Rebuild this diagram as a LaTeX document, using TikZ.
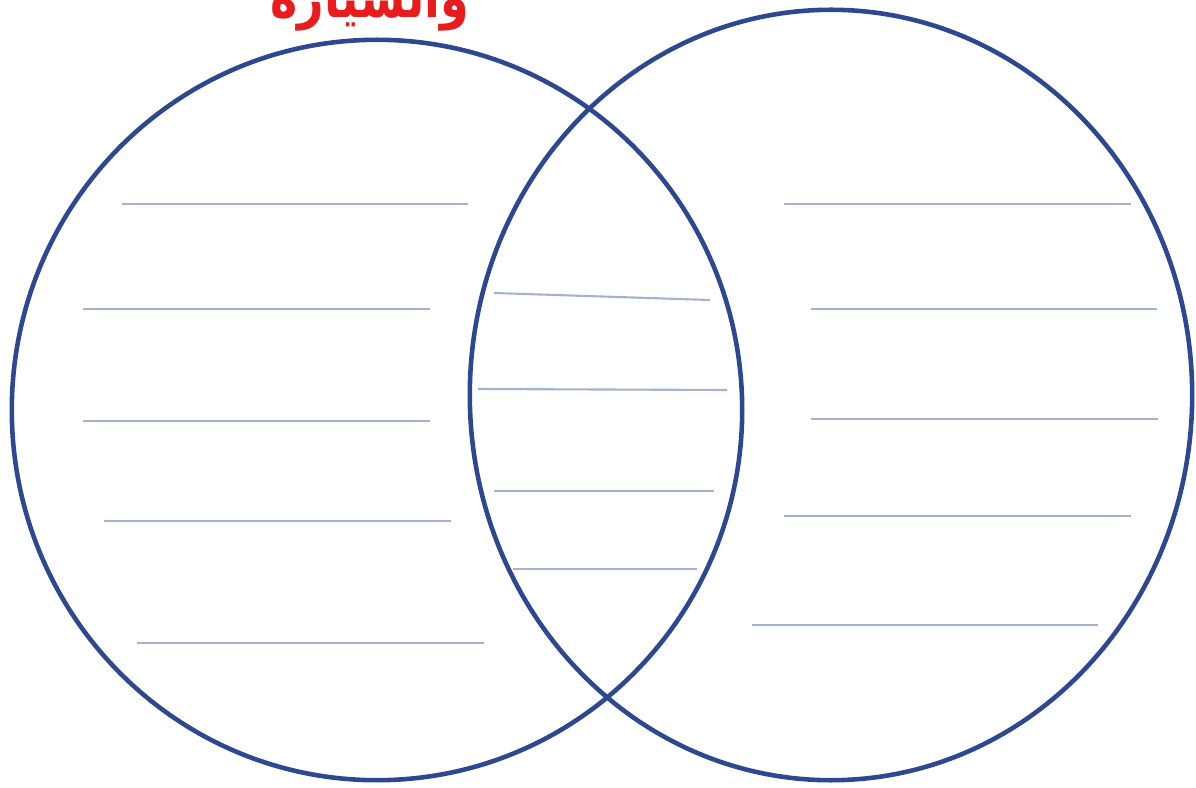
\documentclass[tikz,border=0pt]{standalone}
\usepackage{fontspec}
\newfontfamily\arabicfont[Script=Arabic]{DejaVu Sans}
\TeXXeTstate=1
\usetikzlibrary{shapes.geometric}
\definecolor{ringblue}{RGB}{45,72,145}
\definecolor{rulegray}{RGB}{165,178,205}
\definecolor{titlered}{RGB}{232,28,28}
\tikzset{
  ring/.style={draw=ringblue, line width=1.3pt, ellipse, inner sep=0pt},
  writeline/.style={draw=rulegray, line width=0.6pt},
}
\begin{document}
\begin{tikzpicture}[x=0.01cm, y=-0.01cm]
\useasboundingbox (0,0) rectangle (1196,788);
\clip (0,0) rectangle (1196,788);
\fill[white] (0,0) rectangle (1196,788);
\node[text=titlered, anchor=base, inner sep=0pt, font=\arabicfont\bfseries\fontsize{16}{19}\selectfont, xscale=0.82] (title) at (370,18) {\beginR والسيارة\endR};
\node[ring, minimum width=7.30cm, minimum height=7.40cm] (L) at (377,410) {};
\node[ring, minimum width=7.22cm, minimum height=7.70cm] (R) at (831,395) {};
% left lines
\draw[writeline] (122,204) -- (468,204);
\draw[writeline] (83,309) -- (430,309);
\draw[writeline] (83,421) -- (430,421);
\draw[writeline] (104,521) -- (451,521);
\draw[writeline] (137,643) -- (484,643);
% middle lines
\draw[writeline] (494,293) -- (710,300);
\draw[writeline] (478,389) -- (727,390);
\draw[writeline] (494,491) -- (714,491);
\draw[writeline] (513,569) -- (697,569);
% right lines
\draw[writeline] (784,204) -- (1131,204);
\draw[writeline] (811,309) -- (1157,309);
\draw[writeline] (811,419) -- (1158,419);
\draw[writeline] (784,516) -- (1131,516);
\draw[writeline] (752,625) -- (1098,625);
\end{tikzpicture}
\end{document}
